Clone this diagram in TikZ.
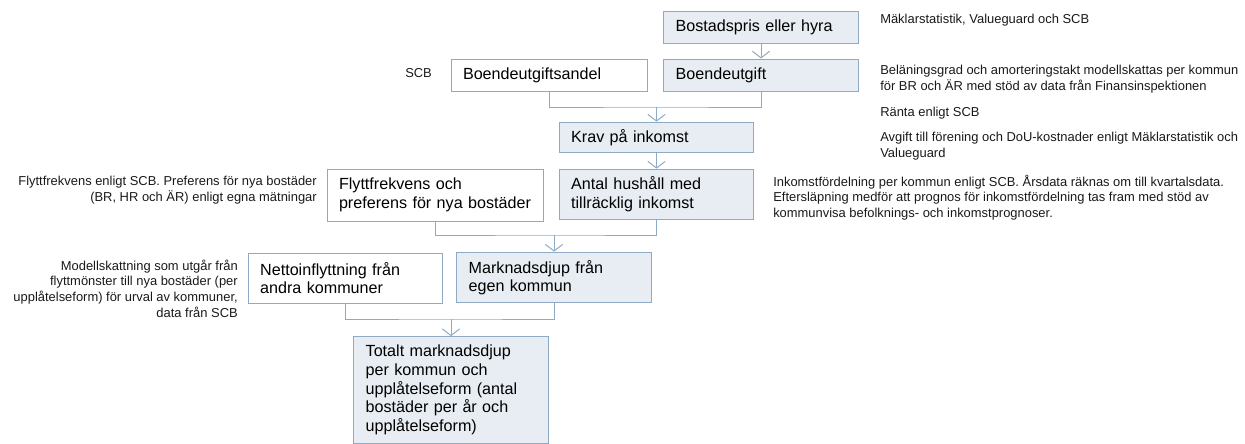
\documentclass[tikz,border=0pt]{standalone}
\usepackage{fontspec}
\setmainfont{Liberation Sans}
\usetikzlibrary{arrows.meta}
\definecolor{edgec}{RGB}{143,170,196}
\definecolor{shadec}{RGB}{231,237,242}
\begin{document}
\begin{tikzpicture}[x=0.75pt, y=-0.75pt]
    \tikzstyle{blk} = [rectangle, draw=edgec, line width=0.75pt, fill=white, text width=128pt, inner xsep=9pt, align=left, font=\fontsize{12.1}{14}\selectfont]
    \tikzstyle{shd} = [blk, fill=shadec]
    \tikzstyle{note} = [inner sep=0pt, font=\fontsize{9.7}{11.8}\selectfont, text=black!90]
    \tikzstyle{con} = [draw=edgec, line width=0.75pt]
    \tikzstyle{arr} = [con, -{Straight Barb[length=5pt,width=13pt]}]
    \useasboundingbox (0,0) rectangle (1245,443);
    % boxes
    \node [shd, minimum height=24pt] (pris) at (761,27) {Bostadspris eller hyra};
    \node [shd, minimum height=24pt] (utgift) at (761,75) {Boendeutgift};
    \node [blk, minimum height=24pt, text width=129pt] (andel) at (549,75) {Boendeutgiftsandel};
    \node [shd, minimum height=23pt] (krav) at (656.5,137.5) {Krav på inkomst};
    \node [shd, minimum height=38pt] (antal) at (656.5,194.5) {Antal hushåll med\\tillräcklig inkomst};
    \node [blk, minimum height=39pt, text width=144pt] (flytt) at (435,195) {Flyttfrekvens och\\preferens för nya bostäder};
    \node [blk, minimum height=37.5pt] (netto) at (345.5,278) {Nettoinflyttning från\\andra kommuner};
    \node [shd, minimum height=38pt] (djup) at (554,277.5) {Marknadsdjup från\\egen kommun};
    \node [shd, minimum height=80pt] (totalt) at (451,390) {Totalt marknadsdjup\\per kommun och\\upplåtelseform (antal\\bostäder per år och\\upplåtelseform)};
    % connectors
    \coordinate (j1) at (656.5,107);
    \coordinate (j2) at (554,235);
    \coordinate (j3) at (451,319);
    \draw [arr] (pris) -- (utgift);
    \draw [con] (andel.south) |- (j1) -| (utgift.south);
    \draw [arr] (j1) -- (krav.north);
    \draw [arr] (krav) -- (antal);
    \draw [con] (flytt.south) |- (j2) -| (antal.south);
    \draw [arr] (j2) -- (djup.north);
    \draw [con] (netto.south) |- (j3) -| (djup.south);
    \draw [arr] (j3) -- (totalt.north);
    % sources
    \node [note, anchor=west] (srcpris) at (880,20) {Mäklarstatistik, Valueguard och SCB};
    \node [note, anchor=west] (srcandel) at (405,73) {SCB};
    \node [note, anchor=west, align=left] (srclan) at (880,79) {Beläningsgrad och amorteringstakt modellskattas per kommun\\för BR och ÄR med stöd av data från Finansinspektionen};
    \node [note, anchor=west] (srcranta) at (880,113) {Ränta enligt SCB};
    \node [note, anchor=west, align=left] (srcavg) at (880,146.5) {Avgift till förening och DoU-kostnader enligt Mäklarstatistik och\\Valueguard};
    \node [note, anchor=west, align=left] (srcink) at (773,197.5) {Inkomstfördelning per kommun enligt SCB. Årsdata räknas om till kvartalsdata.\\Eftersläpning medför att prognos för inkomstfördelning tas fram med stöd av\\kommunvisa befolknings- och inkomstprognoser.};
    \node [note, anchor=east, align=right] (srcflytt) at (317,190.5) {Flyttfrekvens enligt SCB. Preferens för nya bostäder\\(BR, HR och ÄR) enligt egna mätningar};
    \node [note, anchor=east, align=right] (srcnetto) at (238,288.5) {Modellskattning som utgår från\\flyttmönster till nya bostäder (per\\upplåtelseform) för urval av kommuner,\\data från SCB};
\end{tikzpicture}
\end{document}
